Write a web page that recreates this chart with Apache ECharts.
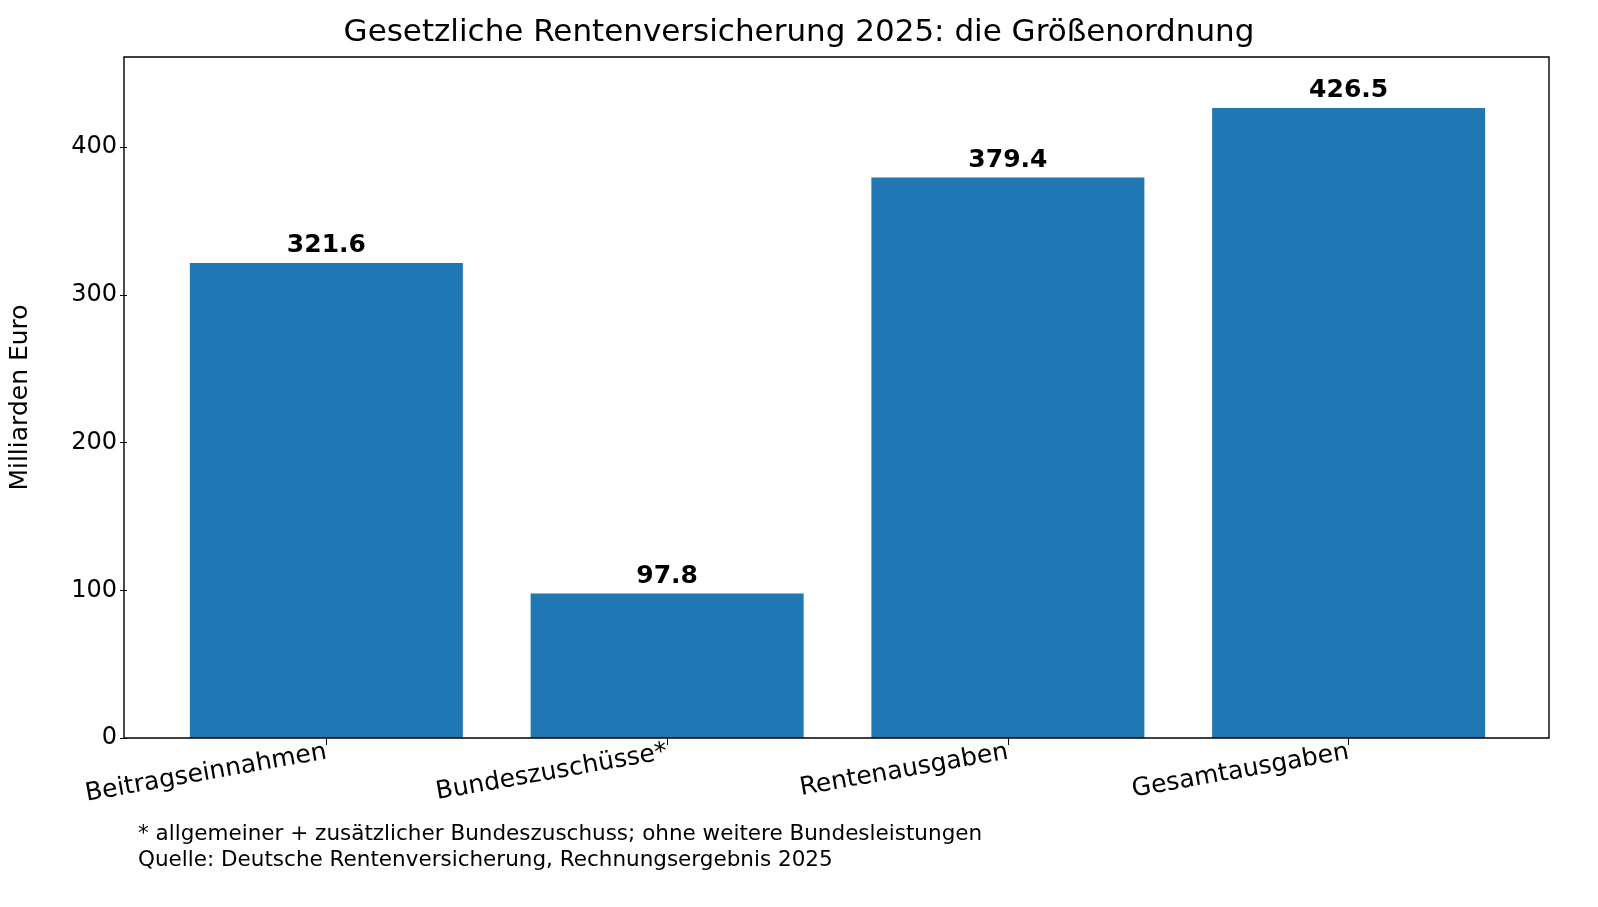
<!DOCTYPE html>
<html><head><meta charset="utf-8">
<script src="https://cdn.jsdelivr.net/npm/echarts@6/dist/echarts.min.js"></script>
<style>html,body{margin:0;background:#fff}#c{width:1598px;height:907px}</style>
</head><body><div id="c"></div>
<script>
const categories = ['Beitragseinnahmen', 'Bundeszuschüsse*', 'Rentenausgaben', 'Gesamtausgaben'];
const values = [321.6, 97.8, 379.4, 426.5];
const yTicks = [0, 100, 200, 300, 400];

const font = 'DejaVu Sans';
let chart = echarts.init(document.getElementById('c'));
chart.setOption({
  textStyle: { fontFamily: font },
  title: {
    text: 'Gesetzliche Rentenversicherung 2025: die Größenordnung',
    left: 'center', top: 12,
    textStyle: { fontFamily: font, fontSize: 31, fontWeight: 'normal', color: '#000' }
  },
  grid: { left: 153, right: 79, top: 57, bottom: 169 },
  xAxis: {
    type: 'category', data: categories, boundaryGap: true,
    axisLine: { show: false },
    axisTick: { show: true, alignWithLabel: true, length: 7, lineStyle: { color: '#000' } },
    axisLabel: { rotate: 10, fontSize: 25, color: '#000', fontFamily: font, margin: 14, interval: 0 }
  },
  yAxis: {
    type: 'value', min: 0, max: 461, offset: 29,
    name: 'Milliarden Euro', nameLocation: 'middle', nameGap: 94,
    nameTextStyle: { fontSize: 25, color: '#000', fontFamily: font },
    splitLine: { show: false },
    axisLine: { show: false },
    axisTick: { show: true, length: 7, customValues: yTicks, lineStyle: { color: '#000' } },
    axisLabel: { fontSize: 24, color: '#000', fontFamily: font, margin: 10, customValues: yTicks }
  },
  graphic: [
    { type: 'rect', shape: { x: 124, y: 57, width: 1425, height: 681 },
      style: { fill: 'none', stroke: '#000', lineWidth: 1.4 }, z: 100 },
    { type: 'text', left: 138, top: 821,
      style: { text: '* allgemeiner + zusätzlicher Bundeszuschuss; ohne weitere Bundesleistungen\nQuelle: Deutsche Rentenversicherung, Rechnungsergebnis 2025',
        font: '21.5px "DejaVu Sans"', fill: '#000', lineHeight: 26 } }
  ],
  series: [{
    type: 'bar', data: values, barWidth: 273,
    itemStyle: { color: '#1f77b4' },
    label: { show: true, position: 'top', distance: 5, fontSize: 25, fontWeight: 'bold', color: '#000',
      fontFamily: font, formatter: p => p.value.toFixed(1) }
  }]
});
</script></body></html>
